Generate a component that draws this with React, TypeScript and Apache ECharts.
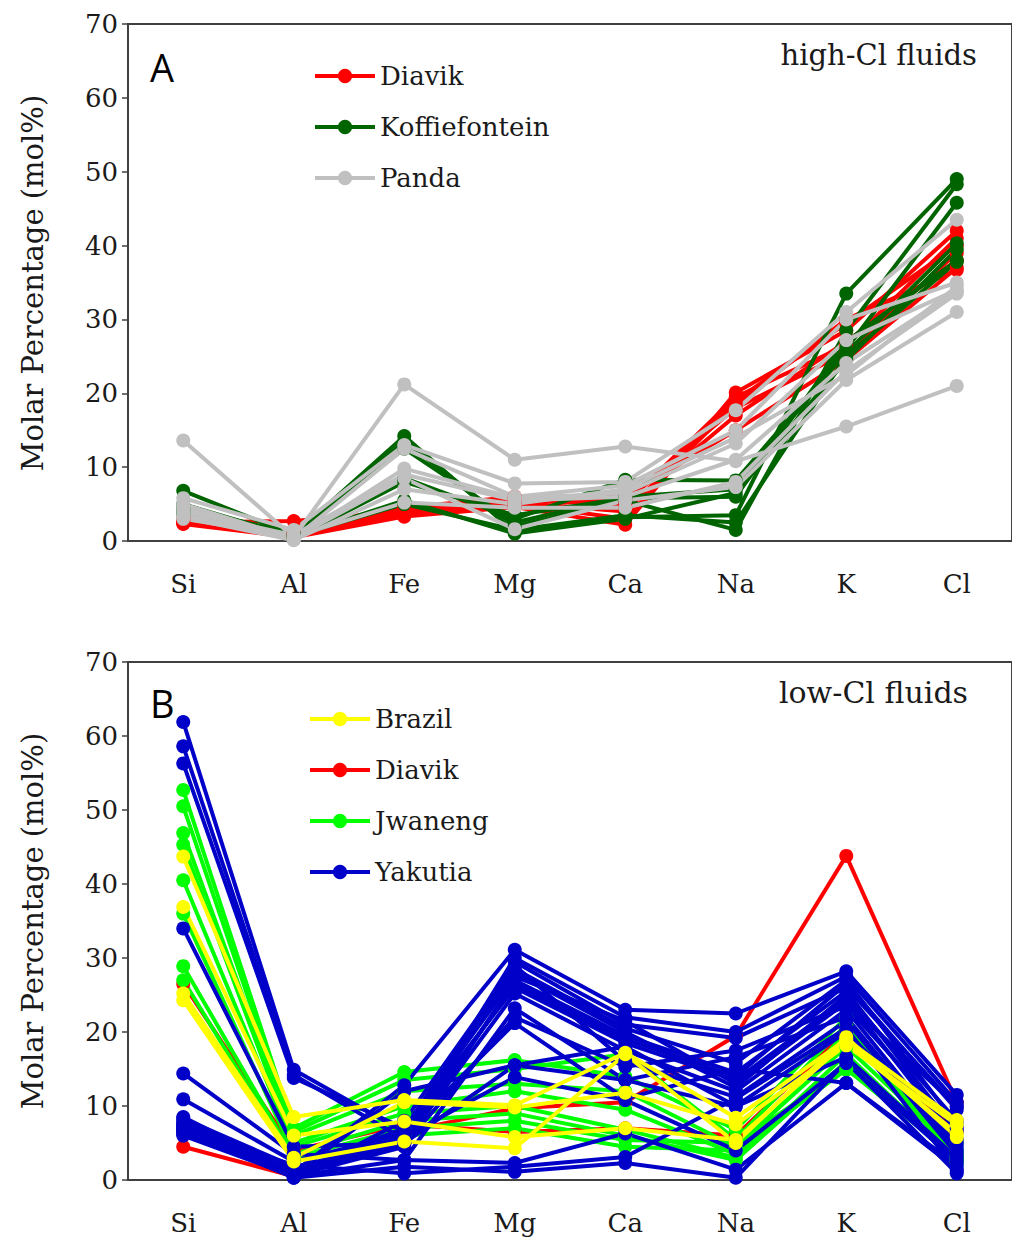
import React, { useEffect, useRef } from "react";
import * as echarts from "echarts";

const categories = ["Si", "Al", "Fe", "Mg", "Ca", "Na", "K", "Cl"];
const yMin = 0;
const yMax = 70;
const yStep = 10;

// Panel A: high-Cl fluids
const diavikA = [
  [2.3, 0.5, 3.3, 4.6, 2.2, 20.1, 28.5, 42.0],
  [2.5, 2.7, 4.0, 5.5, 5.0, 19.5, 26.5, 41.0],
  [2.8, 0.8, 3.6, 5.0, 3.0, 19.0, 29.5, 40.0],
  [3.0, 1.0, 4.3, 5.8, 5.5, 18.0, 25.5, 39.0],
  [2.4, 0.6, 3.5, 4.8, 4.5, 17.0, 27.0, 38.0],
  [3.2, 1.2, 4.5, 6.0, 6.0, 15.0, 24.5, 37.0],
  [2.6, 0.7, 3.8, 5.2, 4.0, 18.5, 30.0, 36.7],
];
const koffiefonteinA = [
  [6.8, 0.8, 14.2, 1.2, 3.2, 3.5, 33.5, 49.0],
  [5.0, 0.5, 13.5, 2.0, 5.5, 1.5, 28.5, 48.3],
  [4.5, 1.0, 12.5, 2.5, 6.0, 7.0, 26.0, 45.8],
  [4.0, 0.4, 8.5, 3.0, 8.3, 8.2, 25.5, 40.3],
  [3.5, 0.6, 5.5, 1.0, 3.0, 6.5, 24.5, 39.5],
  [3.8, 0.3, 8.0, 3.5, 5.8, 6.0, 27.0, 38.0],
  [4.2, 0.7, 5.0, 1.5, 3.5, 2.5, 25.0, 37.8],
];
const pandaA = [
  [13.6, 0.5, 21.2, 11.0, 12.8, 10.8, 15.5, 21.0],
  [5.8, 1.5, 13.0, 7.8, 8.0, 17.7, 31.0, 43.5],
  [5.0, 0.3, 12.5, 6.0, 7.5, 15.0, 30.0, 35.0],
  [4.5, 0.2, 9.8, 5.8, 6.5, 13.2, 27.2, 34.0],
  [4.0, 0.8, 9.0, 5.5, 6.0, 11.0, 24.1, 33.8],
  [3.5, 0.4, 8.5, 1.6, 5.5, 7.3, 21.8, 31.0],
  [3.0, 0.6, 5.2, 4.5, 4.5, 8.0, 23.0, 33.5],
  [3.2, 0.1, 7.0, 5.0, 7.0, 14.0, 22.5, 34.5],
];

// Panel B: low-Cl fluids
const brazilB = [
  [43.7, 8.5, 10.8, 10.1, 17.2, 8.4, 19.0, 8.1],
  [36.9, 6.0, 7.9, 5.8, 7.0, 5.4, 18.6, 6.3],
  [25.2, 3.0, 10.5, 9.8, 11.8, 7.5, 18.2, 7.5],
  [24.3, 2.5, 5.2, 4.3, 17.0, 5.0, 19.3, 5.8],
];
const diavikB = [
  [4.5, 0.5, 6.5, 9.7, 10.5, 19.5, 43.8, 10.5],
  [26.5, 4.0, 7.5, 6.5, 7.0, 6.0, 20.0, 6.5],
];
const jwanengB = [
  [52.7, 7.0, 14.6, 16.2, 14.0, 6.8, 22.0, 3.1],
  [50.5, 6.5, 13.5, 15.0, 17.0, 5.5, 21.0, 2.3],
  [46.9, 6.0, 12.0, 13.0, 12.0, 4.5, 18.0, 4.0],
  [45.3, 5.0, 10.0, 12.0, 9.5, 3.5, 20.0, 3.5],
  [40.5, 4.5, 9.0, 10.0, 6.8, 3.0, 17.0, 2.8],
  [36.0, 3.5, 8.0, 9.0, 6.0, 2.7, 16.0, 2.5],
  [28.9, 3.0, 7.0, 8.0, 5.4, 5.0, 15.0, 3.0],
  [27.0, 2.5, 6.0, 7.0, 4.5, 4.0, 14.9, 5.0],
];
const yakutiaB = [
  [61.9, 14.9, 6.5, 28.0, 20.0, 12.5, 25.0, 8.0],
  [58.6, 14.2, 5.5, 26.5, 19.0, 14.0, 26.5, 9.5],
  [56.3, 13.8, 7.0, 27.5, 21.5, 13.0, 24.0, 10.0],
  [34.0, 4.5, 5.0, 15.5, 18.0, 10.0, 20.0, 5.0],
  [14.4, 3.5, 2.7, 23.2, 13.5, 16.6, 22.0, 4.0],
  [10.9, 2.5, 6.3, 21.2, 11.0, 15.0, 13.1, 2.0],
  [8.5, 1.0, 12.8, 31.1, 23.0, 22.5, 28.2, 11.5],
  [8.0, 0.8, 6.0, 30.0, 22.0, 20.0, 27.5, 10.5],
  [7.7, 0.5, 5.5, 29.5, 21.0, 19.2, 26.0, 9.9],
  [7.5, 1.2, 7.0, 28.5, 20.5, 15.8, 27.0, 7.5],
  [7.2, 0.6, 4.5, 27.0, 19.5, 14.5, 25.5, 6.5],
  [7.0, 0.4, 6.8, 26.0, 18.5, 13.5, 24.5, 5.5],
  [6.8, 0.9, 5.0, 25.2, 17.5, 12.0, 23.0, 4.5],
  [6.6, 0.3, 8.0, 29.0, 16.0, 11.2, 21.5, 3.5],
  [6.4, 0.7, 12.0, 15.5, 13.5, 9.9, 16.6, 3.0],
  [6.2, 1.5, 5.8, 13.9, 10.8, 4.0, 15.8, 2.5],
  [6.0, 0.5, 2.7, 2.3, 6.3, 1.4, 13.1, 1.5],
  [7.4, 0.3, 1.8, 1.1, 2.3, 0.3, 16.0, 0.9],
  [6.9, 2.0, 0.9, 1.8, 3.1, 11.0, 20.5, 1.2],
  [8.3, 1.8, 4.8, 22.0, 15.3, 17.5, 23.5, 7.0],
];

const legendA = ["Diavik", "Koffiefontein", "Panda"];
const legendB = ["Brazil", "Diavik", "Jwaneng", "Yakutia"];

const COLORS: Record<string, string> = {
  Diavik: "#ff0000",
  Koffiefontein: "#006400",
  Panda: "#c0c0c0",
  Brazil: "#ffff00",
  Jwaneng: "#00ff00",
  Yakutia: "#0000c8",
};

const SERIF = "'DejaVu Serif', serif";
const AXIS_COLOR = "#404040";
const TEXT_COLOR = "#1a1a1a";

function makeSeries(name: string, rows: number[][], idx: number) {
  const color = COLORS[name];
  return rows.map((r) => ({
    type: "line",
    name,
    xAxisIndex: idx,
    yAxisIndex: idx,
    data: r,
    symbol: "circle",
    symbolSize: 14,
    showSymbol: true,
    lineStyle: { color, width: 4 },
    itemStyle: { color },
    emphasis: { disabled: true },
    silent: true,
  }));
}

const GRID_LEFT = 128;
const GRID_WIDTH = 885;
const gridTops = [24, 662];
const gridHeights = [517, 518];

function xAxisFor(idx: number) {
  return {
    type: "category",
    gridIndex: idx,
    data: categories,
    boundaryGap: true,
    axisLine: { lineStyle: { color: AXIS_COLOR, width: 2 } },
    axisTick: { alignWithLabel: true, length: 6, lineStyle: { color: AXIS_COLOR, width: 1.5 } },
    axisLabel: { fontFamily: SERIF, fontSize: 26, color: TEXT_COLOR, margin: 30 },
    splitLine: { show: false },
  };
}

function yAxisFor(idx: number) {
  return {
    type: "value",
    gridIndex: idx,
    min: yMin,
    max: yMax,
    interval: yStep,
    axisLine: { show: true, lineStyle: { color: AXIS_COLOR, width: 2 } },
    axisTick: { show: true, length: 6, lineStyle: { color: AXIS_COLOR, width: 1.5 } },
    axisLabel: { fontFamily: SERIF, fontSize: 26, color: TEXT_COLOR, margin: 10 },
    splitLine: { show: false },
  };
}

function legendFor(names: string[], left: number, top: number) {
  return {
    data: names,
    orient: "vertical",
    left,
    top,
    padding: 0,
    itemWidth: 60,
    itemHeight: 18,
    itemGap: 25,
    selectedMode: false,
    lineStyle: { width: 4 },
    textStyle: { fontFamily: SERIF, fontSize: 26, color: TEXT_COLOR },
  };
}

export default function App() {
  const ref = useRef<HTMLDivElement>(null);
  useEffect(() => {
    if (!ref.current) return;
    const chart = echarts.init(ref.current, undefined, { renderer: "svg" });
    const series = [
      ...makeSeries("Diavik", diavikA, 0),
      ...makeSeries("Koffiefontein", koffiefonteinA, 0),
      ...makeSeries("Panda", pandaA, 0),
      ...makeSeries("Diavik", diavikB, 1),
      ...makeSeries("Jwaneng", jwanengB, 1),
      ...makeSeries("Yakutia", yakutiaB, 1),
      ...makeSeries("Brazil", brazilB, 1),
    ];
    chart.setOption({
      animation: false,
      backgroundColor: "#ffffff",
      grid: gridTops.map((t, i) => ({
        left: GRID_LEFT,
        top: t,
        width: GRID_WIDTH,
        height: gridHeights[i],
        show: true,
        borderColor: AXIS_COLOR,
        borderWidth: 2,
        backgroundColor: "transparent",
      })),
      xAxis: [xAxisFor(0), xAxisFor(1)],
      yAxis: [yAxisFor(0), yAxisFor(1)],
      legend: [legendFor(legendA, 313, 63), legendFor(legendB, 308, 706)],
      graphic: [
        { type: "text", left: 150, top: 48, style: { text: "A", font: "38px 'Open Sans', sans-serif", fill: "#000" } },
        { type: "text", left: 150, top: 684, style: { text: "B", font: "38px 'Open Sans', sans-serif", fill: "#000" } },
        { type: "text", right: 35, top: 40, style: { text: "high-Cl fluids", font: `29px ${SERIF}`, fill: TEXT_COLOR } },
        { type: "text", right: 44, top: 677, style: { text: "low-Cl fluids", font: `30px ${SERIF}`, fill: TEXT_COLOR } },
        {
          type: "text",
          x: 33,
          y: 283,
          rotation: Math.PI / 2,
          style: { text: "Molar Percentage (mol%)", font: `29px ${SERIF}`, fill: TEXT_COLOR, align: "center", verticalAlign: "middle" },
        },
        {
          type: "text",
          x: 33,
          y: 921,
          rotation: Math.PI / 2,
          style: { text: "Molar Percentage (mol%)", font: `29px ${SERIF}`, fill: TEXT_COLOR, align: "center", verticalAlign: "middle" },
        },
      ],
      series,
    });
    return () => chart.dispose();
  }, []);
  return (
    <div
      ref={ref}
      style={{ position: "absolute", left: 0, top: 0, width: 1012, height: 1241, background: "#fff" }}
    />
  );
}
